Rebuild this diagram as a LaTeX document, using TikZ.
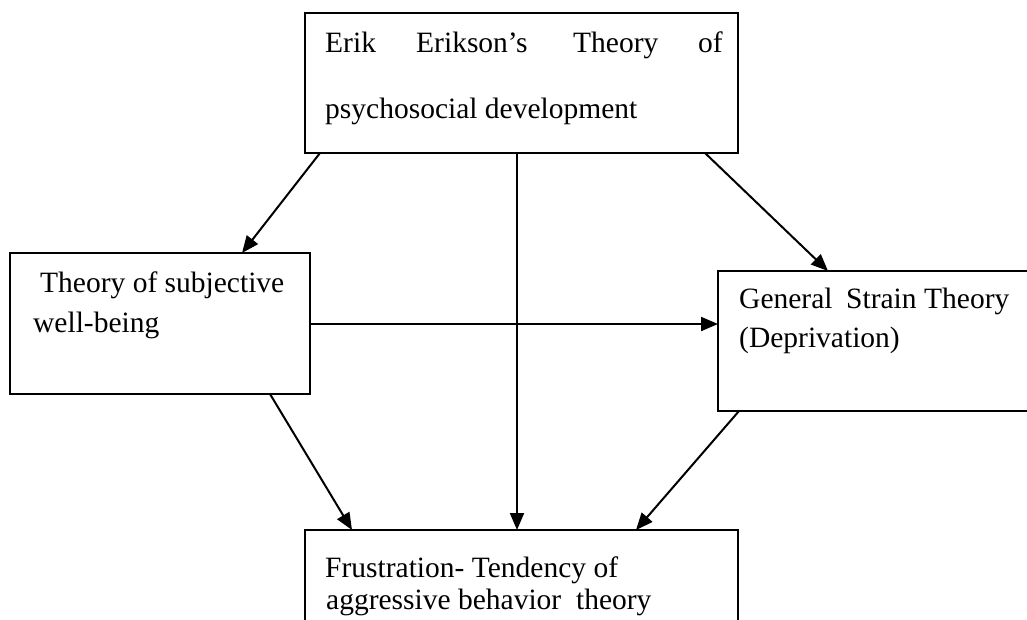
\documentclass[tikz,border=0pt]{standalone}
\usepackage{fontspec}
\setmainfont{Liberation Serif}
\usetikzlibrary{arrows.meta}
\begin{document}
\begin{tikzpicture}[x=1pt,y=-1pt,
  box/.style={draw,line width=2pt,inner sep=0pt,outer sep=0pt},
  arr/.style={line width=2pt,-{Triangle[length=17pt,width=14pt]}},
  txt/.style={anchor=base west,inner sep=0pt,font=\fontsize{29.5}{35}\selectfont}]
\useasboundingbox (0,0) rectangle (1027,619);
\clip (0,0) rectangle (1027,619);
\node[box,minimum width=433pt,minimum height=140pt] (top) at (521.5,83) {};
\node[box,minimum width=300pt,minimum height=141pt] (left) at (160,323.5) {};
\node[box,minimum width=322pt,minimum height=140pt] (right) at (879,341) {};
\node[box,minimum width=433pt,minimum height=110pt] (bot) at (521.5,585) {};
% texts
\node[txt] (t1) at (325,52) {Erik};
\node[txt] (t2) at (416,52) {Erikson’s};
\node[txt] (t3) at (573,52) {Theory};
\node[txt] (t4) at (698,52) {of};
\node[txt] (t5) at (325,118) {psychosocial development};
\node[txt] (l1) at (40,292) {Theory of subjective};
\node[txt] (l2) at (33,332) {well-being};
\node[txt] (r1) at (739,308) {General};
\node[txt] (r2) at (846,308) {Strain};
\node[txt] (r3) at (924,308) {Theory};
\node[txt] (r4) at (739,347) {(Deprivation)};
\node[txt] (b1) at (325,577) {Frustration- Tendency of};
\node[txt] (b2) at (326,609) {aggressive behavior\ \ theory};
% connectors
\draw[arr] ([xshift=15pt]top.south west) -- ([xshift=232pt]left.north west);
\draw[arr] ([xshift=212pt]top.south west) -- ([xshift=212pt]bot.north west);
\draw[arr] ([xshift=400pt]top.south west) -- ([xshift=110pt]right.north west);
\draw[arr] ([yshift=-71pt]left.north east) -- ([yshift=-53pt]right.north west);
\draw[arr] ([xshift=260pt]left.south west) -- ([xshift=47pt]bot.north west);
\draw[arr] ([xshift=21pt]right.south west) -- ([xshift=331pt]bot.north west);
\end{tikzpicture}
\end{document}
